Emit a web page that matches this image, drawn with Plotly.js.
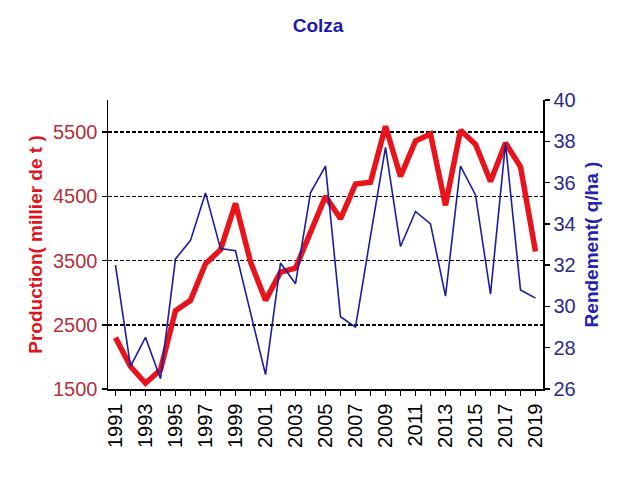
<!DOCTYPE html>
<html>
<head>
<meta charset="utf-8">
<script src="https://cdn.plot.ly/plotly-3.0.1.min.js"></script>
<style>html,body{margin:0;padding:0;background:#fff;}#chart{width:620px;height:483px;}</style>
</head>
<body>
<div id="chart"></div>
<script>
const years = [1991,1992,1993,1994,1995,1996,1997,1998,1999,2000,2001,2002,2003,2004,2005,2006,2007,2008,2009,2010,2011,2012,2013,2014,2015,2016,2017,2018,2019];
const production = [2300,1850,1590,1800,2720,2880,3450,3670,4390,3480,2880,3320,3380,3960,4500,4150,4690,4720,5590,4810,5360,5470,4360,5530,5310,4730,5330,4960,3640];
const rendement = [32.0,27.1,28.5,26.5,32.3,33.2,35.5,32.8,32.7,29.7,26.7,32.1,31.1,35.5,36.8,29.5,29.0,33.4,37.7,32.9,34.6,34.0,30.5,36.8,35.4,30.6,37.9,30.8,30.4];
const xTickVals = [1991,1993,1995,1997,1999,2001,2003,2005,2007,2009,2011,2013,2015,2017,2019];
const leftTicks = [1500,2500,3500,4500,5500];
const rightTicks = [26,28,30,32,34,36,38,40];

const narrow = '"Liberation Sans Narrow", "Arial Narrow", "Liberation Sans", Arial, sans-serif';
const regular = '"Liberation Sans", Arial, sans-serif';

const traces = [
  {x: years, y: rendement, type: 'scatter', mode: 'lines', yaxis: 'y2',
   line: {color: '#1c1ca0', width: 1.6}, name: 'Rendement'},
  {x: years, y: production, type: 'scatter', mode: 'lines', yaxis: 'y',
   line: {color: '#e8141c', width: 5.5}, name: 'Production'}
];

const layout = {
  width: 620, height: 483,
  margin: {l: 108, r: 77, t: 100, b: 94},
  paper_bgcolor: '#fff', plot_bgcolor: '#fff',
  showlegend: false,
  title: {text: '<b>Colza</b>', x: 0.513, xanchor: 'center', y: 0.948, yanchor: 'middle',
          font: {family: narrow, size: 19, color: '#1a1aaa'}},
  xaxis: {
    range: [1990.5, 2019.5], tickmode: 'array', tickvals: xTickVals,
    ticktext: xTickVals.map(String), tickangle: -90,
    ticks: 'outside', ticklen: 5, tickwidth: 1.5, tickcolor: '#000',
    minor: {dtick: 1, tick0: 1991, ticks: 'outside', ticklen: 5, tickwidth: 1.5, tickcolor: '#000', showgrid: false},
    showline: true, linecolor: '#000', linewidth: 1.5, showgrid: false, zeroline: false,
    tickfont: {family: regular, size: 20, color: '#000'}
  },
  yaxis: {
    range: [1500, 6000], tickmode: 'array', tickvals: leftTicks,
    ticks: 'outside', ticklen: 5, tickwidth: 1.5, tickcolor: '#000',
    showline: true, linecolor: '#000', linewidth: 1.5,
    showgrid: true, gridcolor: '#000', gridwidth: 1.5, griddash: '4px,2px', zeroline: false,
    tickfont: {family: narrow, size: 20, color: '#b5303a'},
    title: {text: '<b>Production( millier de t )</b>', standoff: 5,
            font: {family: regular, size: 19, color: '#e0141c'}}
  },
  yaxis2: {
    overlaying: 'y', side: 'right',
    range: [26, 40], tickmode: 'array', tickvals: rightTicks,
    ticks: 'outside', ticklen: 5, tickwidth: 1.5, tickcolor: '#000',
    showline: true, linecolor: '#000', linewidth: 1.5, showgrid: false, zeroline: false,
    tickfont: {family: narrow, size: 20, color: '#2b2b88'},
    title: {text: '<b>Rendement( q/ha )</b>', standoff: 10,
            font: {family: regular, size: 19, color: '#2323b0'}}
  }
};

Plotly.newPlot('chart', traces, layout, {displayModeBar: false, staticPlot: true});
</script>
</body>
</html>
